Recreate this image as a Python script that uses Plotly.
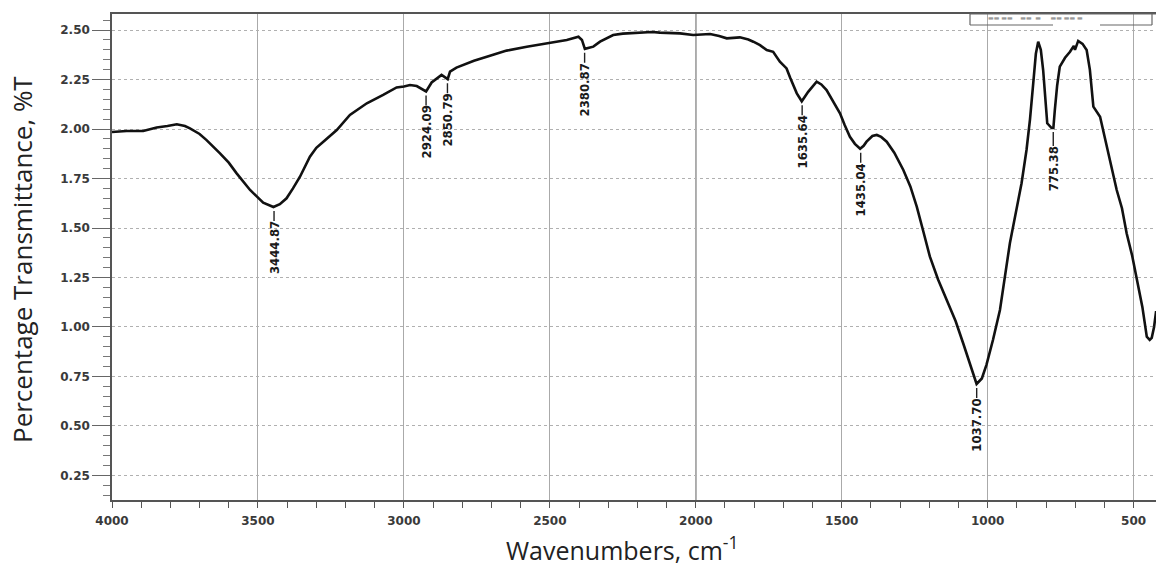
import plotly.graph_objects as go

# ---------------- data ----------------
wavenumber = [4000, 3950, 3893, 3847, 3810, 3778, 3750, 3733, 3700, 3676, 3630, 3600, 3573, 3527,
              3482, 3460, 3447, 3425, 3402, 3380, 3356, 3322, 3300, 3276, 3230, 3185, 3127, 3071,
              3025, 3000, 2979, 2956, 2940, 2924, 2905, 2885, 2871, 2850, 2842, 2820, 2797, 2760,
              2716, 2648, 2579, 2505, 2442, 2402, 2390, 2380, 2365, 2351, 2328, 2283, 2250, 2203,
              2150, 2123, 2054, 2009, 1980, 1951, 1920, 1894, 1849, 1820, 1803, 1780, 1757, 1735,
              1712, 1689, 1677, 1665, 1654, 1637, 1625, 1615, 1586, 1570, 1552, 1530, 1506, 1490,
              1472, 1455, 1437, 1425, 1415, 1395, 1380, 1365, 1346, 1320, 1289, 1265, 1243, 1220,
              1198, 1170, 1141, 1110, 1084, 1060, 1038, 1020, 1004, 982, 958, 924, 884, 867, 855,
              844, 835, 827, 818, 810, 803, 796, 781, 775, 770, 762, 753, 735, 718, 705, 701, 690,
              675, 661, 650, 638, 615, 590, 558, 540, 524, 505, 490, 470, 455, 445, 438, 430, 423]
transmittance = [1.985, 1.99, 1.99, 2.008, 2.015, 2.024, 2.015, 2.003, 1.975, 1.944, 1.877, 1.83, 1.776, 1.692,
                 1.628, 1.612, 1.606, 1.62, 1.65, 1.70, 1.759, 1.86, 1.905, 1.936, 1.995, 2.071, 2.13, 2.172,
                 2.21, 2.215, 2.222, 2.217, 2.205, 2.19, 2.235, 2.26, 2.273, 2.252, 2.29, 2.31, 2.323, 2.345,
                 2.365, 2.396, 2.416, 2.433, 2.45, 2.466, 2.45, 2.405, 2.41, 2.416, 2.441, 2.475, 2.482, 2.487,
                 2.49, 2.487, 2.483, 2.475, 2.478, 2.48, 2.47, 2.458, 2.463, 2.452, 2.441, 2.424, 2.399, 2.39,
                 2.34, 2.306, 2.26, 2.22, 2.18, 2.14, 2.165, 2.188, 2.239, 2.225, 2.197, 2.14, 2.079, 2.02,
                 1.961, 1.925, 1.90, 1.915, 1.936, 1.965, 1.97, 1.96, 1.936, 1.88, 1.793, 1.71, 1.608, 1.48,
                 1.355, 1.24, 1.136, 1.03, 0.918, 0.81, 0.712, 0.74, 0.81, 0.934, 1.086, 1.423, 1.726, 1.894, 2.05,
                 2.231, 2.38, 2.441, 2.40, 2.298, 2.15, 2.029, 2.005, 2.005, 2.096, 2.22, 2.315, 2.36, 2.39, 2.42, 2.40, 2.445,
                 2.43, 2.399, 2.3, 2.113, 2.062, 1.90, 1.692, 1.60, 1.473, 1.36, 1.254, 1.10, 0.951, 0.935, 0.945, 1.0, 1.08]

peak_wn = [3444.87, 2924.09, 2850.79, 2380.87, 1635.64, 1435.04, 1037.70, 775.38]
peak_val = [1.606, 2.19, 2.252, 2.405, 2.14, 1.90, 0.712, 2.005]
peak_labels = ["3444.87", "2924.09", "2850.79", "2380.87", "1635.64", "1435.04", "1037.70", "775.38"]

y_ticks = [0.25, 0.50, 0.75, 1.00, 1.25, 1.50, 1.75, 2.00, 2.25, 2.50]
x_ticks = [4000, 3500, 3000, 2500, 2000, 1500, 1000, 500]

# ---------------- figure ----------------
W, H = 1156, 568
L, R, T, B = 112, 0, 14, 68
PW, PH = W - L - R, H - T - B


def px_x(px):
    return (px - L) / PW


def px_y(py):
    return (H - B - py) / PH


fig = go.Figure()
fig.add_trace(go.Scatter(x=wavenumber, y=transmittance, mode="lines",
                         line=dict(color="#111111", width=2.6), hoverinfo="x+y",
                         showlegend=False))

tick_font = dict(family="DejaVu Sans, Liberation Sans, Arial", size=12, color="#3a3a3a", weight="bold")

fig.update_xaxes(range=[4000, 423.4], tickvals=x_ticks, ticktext=[str(v) for v in x_ticks],
                 showline=True, linecolor="#555555", linewidth=1.5, mirror=True,
                 ticks="outside", ticklen=6, tickcolor="#555555", tickwidth=1,
                 ticklabelstandoff=3,
                 minor=dict(dtick=100, ticks="outside", ticklen=6, tickcolor="#555555", showgrid=False),
                 showgrid=True, gridcolor="#aaaaaa", gridwidth=1,
                 tickfont=tick_font, zeroline=False)
fig.update_yaxes(range=[0.126, 2.581], tickvals=y_ticks, ticktext=["%.2f" % v for v in y_ticks],
                 showline=True, linecolor="#555555", linewidth=1.5, mirror=False,
                 ticks="outside", ticklen=18, tickcolor="#666666", tickwidth=1,
                 minor=dict(dtick=0.05, tick0=0, ticks="outside", ticklen=7, tickcolor="#777777",
                            showgrid=False),
                 showgrid=True, gridcolor="#b0b0b0", gridwidth=1, griddash="dot",
                 tickfont=tick_font, zeroline=False)

# darker 2000 gridline
fig.add_vline(x=2000, line=dict(color="#555555", width=1.3), layer="below")

# peak labels
for wn, v, lab in zip(peak_wn, peak_val, peak_labels):
    fig.add_annotation(x=wn, y=v, xref="x", yref="y", text=lab, textangle=-90,
                       showarrow=True, arrowhead=0, arrowwidth=1.4, arrowcolor="#222222",
                       ax=0, ay=41, standoff=4,
                       font=dict(family="Liberation Sans Narrow, DejaVu Sans Condensed, Arial Narrow, sans-serif",
                                 size=13, color="#1a1a1a", weight="bold"),
                       borderpad=0)

# axis titles
fig.add_annotation(text="Percentage Transmittance, %T", xref="paper", yref="paper",
                   x=px_x(22), y=px_y(260), xanchor="center", yanchor="middle",
                   textangle=-90, showarrow=False,
                   font=dict(family="Open Sans, Noto Sans, sans-serif", size=26, color="#222222"))
fig.add_annotation(text="Wavenumbers, cm<sup>-1</sup>", xref="paper", yref="paper",
                   x=px_x(622), y=px_y(548), xanchor="center", yanchor="middle", showarrow=False,
                   font=dict(family="Open Sans, Noto Sans, sans-serif", size=25, color="#222222"))

# small legend box at the top right
box_line = dict(color="#666666", width=1.2)
for (x0, y0, x1, y1) in [(970, 14, 970, 25), (1152, 14, 1152, 25), (970, 25, 1053, 25), (1100, 25, 1152, 25)]:
    fig.add_shape(type="line", xref="paper", yref="paper", x0=px_x(x0), y0=px_y(y0),
                  x1=px_x(x1), y1=px_y(y1), line=box_line)
fig.add_shape(type="line", xref="paper", yref="paper", x0=px_x(970), y0=px_y(14),
              x1=px_x(1156), y1=px_y(14), line=box_line)
fig.add_annotation(text="▬▬ ▬▬    ▬▬  ▬     ▬▬ ▬▬ ▬", xref="paper", yref="paper",
                   x=px_x(1035), y=px_y(17), xanchor="center", yanchor="middle", showarrow=False,
                   font=dict(family="DejaVu Sans", size=6, color="#999999"))

fig.update_layout(width=W, height=H, margin=dict(l=L, r=R, t=T, b=B),
                  paper_bgcolor="white", plot_bgcolor="white", showlegend=False)

fig.write_html("out.html")
